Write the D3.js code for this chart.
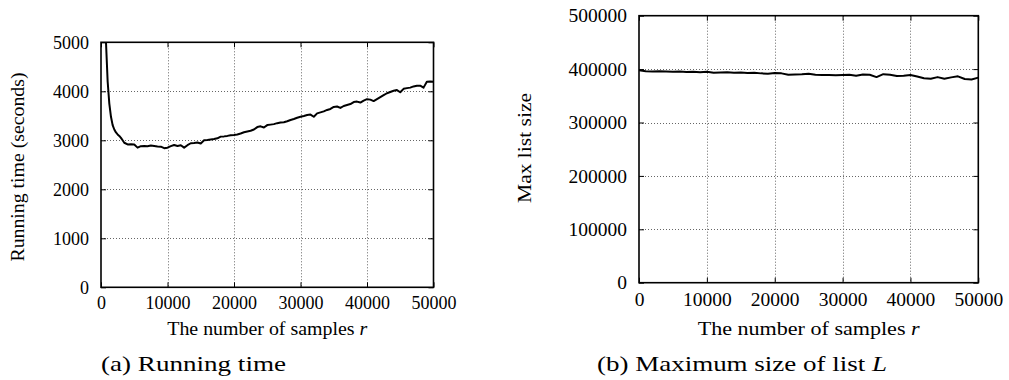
<!DOCTYPE html>
<html>
<head>
<meta charset="utf-8">
<script src="https://cdn.jsdelivr.net/npm/d3@7"></script>
<style>
  body { margin: 0; background: #fff; }
  svg { display: block; }
</style>
</head>
<body>
<svg id="chart" width="1009" height="380"></svg>
<script>
const FONT = "'Liberation Serif'";

// samples r used in panel (a)
const rTime = [250, 500, 750, 1000, 1250, 1500, 1750, 2000, 2250, 2500, 2750, 3000, 3250, 3500,
  4000, 4500, 5000, 5500, 6000, 6500, 7000, 7500, 8000, 8500, 9000, 9500, 10000,
  10500, 11000, 11500, 12000, 12500, 13000, 13500, 14000, 14500, 15000, 15500, 16000,
  16500, 17000, 17500, 18000, 18500, 19000, 19500, 20000, 20500, 21000, 21500, 22000,
  22500, 23000, 23500, 24000, 24500, 25000, 25500, 26000, 26500, 27000, 27500, 28000,
  28500, 29000, 29500, 30000, 30500, 31000, 31500, 32000, 32500, 33000, 33500, 34000,
  34500, 35000, 35500, 36000, 36500, 37000, 37500, 38000, 38500, 39000, 39500, 40000,
  40500, 41000, 41500, 42000, 42500, 43000, 43500, 44000, 44500, 45000, 45500, 46000,
  46500, 47000, 47500, 48000, 48500, 49000, 49500, 50000];
// running time in seconds
const runTime = [7500, 5900, 5000, 4200, 3750, 3480, 3310, 3220, 3160, 3120, 3090, 3050, 3000, 2950,
  2915, 2920, 2915, 2850, 2880, 2885, 2880, 2895, 2885, 2875, 2870, 2840, 2850,
  2880, 2905, 2885, 2900, 2850, 2900, 2940, 2945, 2955, 2935, 3000, 3005,
  3015, 3025, 3040, 3075, 3080, 3090, 3105, 3110, 3120, 3140, 3165, 3180,
  3195, 3220, 3270, 3285, 3260, 3310, 3320, 3330, 3350, 3365, 3370, 3390,
  3415, 3435, 3460, 3480, 3495, 3515, 3525, 3480, 3550, 3570, 3590, 3620,
  3640, 3680, 3690, 3660, 3700, 3720, 3740, 3780, 3790, 3770, 3810, 3840,
  3830, 3800, 3840, 3880, 3920, 3960, 3985, 4010, 4025, 3980, 4050, 4065,
  4075, 4100, 4115, 4115, 4075, 4195, 4200, 4195];

// samples r used in panel (b)
const rSize = [0, 1000, 2000, 3000, 4000, 5000, 6000, 7000, 8000, 9000,
  10000, 11000, 12000, 13000, 14000, 15000, 16000, 17000, 18000, 19000,
  20000, 21000, 22000, 23000, 24000, 25000, 26000, 27000, 28000, 29000,
  30000, 31000, 32000, 33000, 34000, 35000, 36000, 37000, 38000, 39000,
  40000, 41000, 42000, 43000, 44000, 45000, 46000, 47000, 48000, 49000, 50000];
// maximum size of list L
const maxList = [398000, 396000, 395500, 396000, 395500, 395000, 395500, 394500, 395000, 394000,
  395000, 393000, 393500, 394000, 393000, 393500, 392500, 393000, 392000, 391500,
  392500, 392000, 389500, 390000, 390500, 391500, 389500, 389000, 389000, 388500,
  389000, 389500, 387500, 390000, 389500, 385000, 390500, 389500, 387000, 387500,
  389000, 386000, 383000, 382000, 385000, 382000, 384500, 386500, 381500, 380500, 384000];

const xTicks = [0, 10000, 20000, 30000, 40000, 50000];
const timeTicks = [0, 1000, 2000, 3000, 4000, 5000];
const sizeTicks = [0, 100000, 200000, 300000, 400000, 500000];

const svg = d3.select("#chart");

function drawPanel(p) {
  const w = p.right - p.left, h = p.bottom - p.top;
  const x = d3.scaleLinear().domain([0, 50000]).range([p.left, p.right]);
  const y = d3.scaleLinear().domain(p.yDomain).range([p.bottom, p.top]);
  const g = svg.append("g");

  g.append("clipPath").attr("id", p.id + "-clip")
    .append("rect").attr("x", p.left).attr("y", p.top).attr("width", w).attr("height", h);

  // dotted grid
  const grid = g.append("g").attr("stroke", "#666").attr("stroke-width", 1)
    .attr("stroke-dasharray", "1,2");
  grid.selectAll(".gx").data(xTicks.slice(1, -1)).enter().append("line")
    .attr("x1", d => Math.round(x(d)) + 0.5).attr("x2", d => Math.round(x(d)) + 0.5)
    .attr("y1", p.top).attr("y2", p.bottom);
  grid.selectAll(".gy").data(p.yTicks.slice(1, -1)).enter().append("line")
    .attr("y1", d => Math.round(y(d)) + 0.5).attr("y2", d => Math.round(y(d)) + 0.5)
    .attr("x1", p.left).attr("x2", p.right);

  // axes, ticks pointing inward
  const ax = g.append("g").attr("transform", "translate(0," + p.bottom + ")")
    .call(d3.axisBottom(x).tickValues(xTicks).tickSize(-5).tickPadding(9).tickFormat(d3.format("d")));
  const ay = g.append("g").attr("transform", "translate(" + p.left + ",0)")
    .call(d3.axisLeft(y).tickValues(p.yTicks).tickSize(-5).tickPadding(12).tickFormat(d3.format("d")));
  [ax, ay].forEach(a => {
    a.attr("font-family", null).attr("font-size", null);
    a.select(".domain").remove();
    a.selectAll("line").attr("stroke", "#000");
    a.selectAll("text").style("font-family", FONT).style("font-size", p.fs + "px").attr("fill", "#000");
  });
  g.append("g").attr("transform", "translate(0," + p.top + ")")
    .call(d3.axisTop(x).tickValues(xTicks).tickSize(-5).tickFormat(""))
    .call(a => a.select(".domain").remove());
  g.append("g").attr("transform", "translate(" + p.right + ",0)")
    .call(d3.axisRight(y).tickValues(p.yTicks).tickSize(-5).tickFormat(""))
    .call(a => a.select(".domain").remove());

  // frame
  g.append("rect").attr("x", p.left).attr("y", p.top).attr("width", w).attr("height", h)
    .attr("fill", "none").attr("stroke", "#000").attr("stroke-width", 1.6);

  // curve
  const line = d3.line().x((d, i) => x(p.xs[i])).y(d => y(d));
  g.append("path").datum(p.ys)
    .attr("clip-path", "url(#" + p.id + "-clip)")
    .attr("fill", "none").attr("stroke", "#000").attr("stroke-width", 2)
    .attr("stroke-linejoin", "round").attr("d", line);

  // x title
  const xt = g.append("text").attr("x", (p.left + p.right) / 2).attr("y", 335)
    .attr("text-anchor", "middle").style("font-family", FONT).style("font-size", p.fs + "px")
    .attr("textLength", p.xTitleLen).attr("lengthAdjust", "spacingAndGlyphs");
  xt.append("tspan").text("The number of samples ");
  xt.append("tspan").attr("font-style", "italic").text("r");

  // y title
  g.append("text").attr("transform", "translate(" + p.yTitleX + "," + p.yTitleY + ") rotate(-90)")
    .attr("text-anchor", "middle").style("font-family", FONT).style("font-size", p.fs + "px")
    .attr("textLength", p.yTitleLen).attr("lengthAdjust", "spacingAndGlyphs")
    .text(p.yTitle);

  // caption under the panel
  const cap = g.append("text").attr("x", p.capX).attr("y", 371)
    .style("font-family", FONT).style("font-size", "22px")
    .attr("textLength", p.capLen).attr("lengthAdjust", "spacingAndGlyphs");
  p.caption.forEach(c => cap.append("tspan").attr("font-style", c.italic ? "italic" : null).text(c.t));
}

drawPanel({
  id: "time", left: 101, right: 433.5, top: 42.3, bottom: 287.3,
  yDomain: [0, 5000], yTicks: timeTicks, xs: rTime, ys: runTime, fs: 18,
  xTitleLen: 200, yTitle: "Running time (seconds)", yTitleX: 24, yTitleY: 167, yTitleLen: 189,
  caption: [{ t: "(a) Running time" }], capX: 101, capLen: 185
});

drawPanel({
  id: "size", left: 639, right: 978.3, top: 15.7, bottom: 282.7,
  yDomain: [0, 500000], yTicks: sizeTicks, xs: rSize, ys: maxList, fs: 19.5,
  xTitleLen: 222, yTitle: "Max list size", yTitleX: 531, yTitleY: 148, yTitleLen: 110,
  caption: [{ t: "(b) Maximum size of list " }, { t: "L", italic: true }], capX: 597, capLen: 290
});
</script>
</body>
</html>
